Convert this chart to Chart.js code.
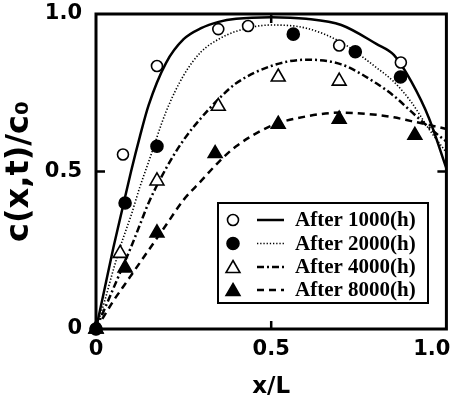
<!DOCTYPE html>
<html><head><meta charset="utf-8">
<script src="https://cdn.jsdelivr.net/npm/chart.js@4/dist/chart.umd.min.js"></script>
<style>html,body{margin:0;padding:0;background:#fff;overflow:hidden}</style>
</head><body>
<canvas id="c" width="456" height="400" style="display:block;width:456px;height:400px"></canvas>
<script>
// ---- data ----
const tickValues = [0, 0.5, 1.0];
const xTickLabels = ['0', '0.5', '1.0'];
const yTickLabels = ['0', '0.5', '1.0'];
const seriesNames = ['After 1000(h)', 'After 2000(h)', 'After 4000(h)', 'After 8000(h)'];

// fitted curves, sampled along x/L
const curveX    = [0, 0.025, 0.05, 0.075, 0.1, 0.125, 0.15, 0.2, 0.25, 0.3, 0.35, 0.4, 0.5, 0.6, 0.7, 0.8, 0.85, 0.9, 0.95, 1.0];
const curve1000 = [0, 0.13, 0.26, 0.38, 0.50, 0.61, 0.71, 0.845, 0.92, 0.955, 0.975, 0.985, 0.99, 0.985, 0.965, 0.905, 0.87, 0.785, 0.67, 0.51];
const curve2000 = [0, 0.09, 0.19, 0.28, 0.36, 0.45, 0.53, 0.69, 0.805, 0.88, 0.92, 0.945, 0.965, 0.955, 0.91, 0.83, 0.785, 0.72, 0.635, 0.56];
const curve4000 = [0, 0.065, 0.13, 0.195, 0.26, 0.33, 0.40, 0.51, 0.60, 0.67, 0.73, 0.78, 0.835, 0.855, 0.84, 0.78, 0.74, 0.69, 0.64, 0.595];
const curve8000 = [0, 0.045, 0.09, 0.13, 0.17, 0.21, 0.25, 0.33, 0.41, 0.47, 0.53, 0.58, 0.645, 0.675, 0.687, 0.68, 0.672, 0.66, 0.648, 0.635];

// measured points
const pts1000X = [0, 0.077, 0.174, 0.349, 0.434, 0.694, 0.87];
const pts1000Y = [0, 0.554, 0.835, 0.952, 0.962, 0.90, 0.846];
const pts2000X = [0, 0.083, 0.174, 0.563, 0.74, 0.869];
const pts2000Y = [0, 0.40, 0.58, 0.936, 0.88, 0.80];
const pts4000X = [0, 0.069, 0.174, 0.349, 0.52, 0.694];
const pts4000Y = [0, 0.24, 0.47, 0.707, 0.80, 0.787];
const pts8000X = [0, 0.083, 0.174, 0.34, 0.52, 0.694, 0.91];
const pts8000Y = [0, 0.194, 0.305, 0.557, 0.65, 0.666, 0.615];

// ---- build chart ----
const zip = (xs, ys) => xs.map((x, i) => ({x: x, y: ys[i]}));
const lineStyles = [
  {dash: [], width: 2.5},
  {dash: [1.3, 1.9], width: 1.6},
  {dash: [7, 3, 2, 3], width: 2.5},
  {dash: [7, 5], width: 2.5}
];
const markerStyles = [
  {style: 'circle', radius: 5.5, fill: '#fff', order: 1.5},
  {style: 'circle', radius: 6, fill: '#000', order: 1.2},
  {style: 'triangle', radius: 8, fill: '#fff', order: 1.4},
  {style: 'triangle', radius: 8, fill: '#000', order: 1.1}
];
const curves = [curve1000, curve2000, curve4000, curve8000];
const pts = [[pts1000X, pts1000Y], [pts2000X, pts2000Y], [pts4000X, pts4000Y], [pts8000X, pts8000Y]];

const datasets = [];
curves.forEach((c, i) => {
  datasets.push({
    label: seriesNames[i] + ' fit',
    data: zip(curveX, c),
    showLine: true,
    borderColor: '#000',
    borderWidth: lineStyles[i].width,
    borderDash: lineStyles[i].dash,
    pointRadius: 0,
    cubicInterpolationMode: 'monotone',
    fill: false,
    order: 2
  });
});
pts.forEach((p, i) => {
  datasets.push({
    label: seriesNames[i],
    data: zip(p[0], p[1]),
    showLine: false,
    pointStyle: markerStyles[i].style,
    pointRadius: markerStyles[i].radius,
    pointBackgroundColor: markerStyles[i].fill,
    pointBorderColor: '#000',
    pointBorderWidth: 1.6,
    clip: false,
    order: markerStyles[i].order
  });
});

const tickFont = {family: 'DejaVu Sans', weight: 'bold', size: 21};

const framePlugin = {
  id: 'frame',
  afterDraw(chart) {
    const ctx = chart.ctx, a = chart.chartArea;
    const xs = chart.scales.x, ys = chart.scales.y;
    ctx.save();
    ctx.strokeStyle = '#000';
    ctx.lineWidth = 3;
    ctx.setLineDash([]);
    ctx.strokeRect(a.left, a.top, a.right - a.left, a.bottom - a.top);
    const xm = xs.getPixelForValue(tickValues[1]);
    const ym = ys.getPixelForValue(tickValues[1]);
    ctx.lineWidth = 2.5;
    ctx.beginPath();
    ctx.moveTo(xm, a.bottom); ctx.lineTo(xm, a.bottom - 8);
    ctx.moveTo(xm, a.top); ctx.lineTo(xm, a.top + 9);
    ctx.moveTo(a.left, ym); ctx.lineTo(a.left + 9, ym);
    ctx.moveTo(a.right, ym); ctx.lineTo(a.right - 9, ym);
    ctx.stroke();
    ctx.restore();
  }
};

const legendPlugin = {
  id: 'boxLegend',
  afterDraw(chart) {
    const ctx = chart.ctx;
    const bx = 218, by = 203, bw = 210, bh = 100;
    ctx.save();
    ctx.fillStyle = '#fff';
    ctx.fillRect(bx, by, bw, bh);
    ctx.strokeStyle = '#000';
    ctx.lineWidth = 2;
    ctx.strokeRect(bx, by, bw, bh);
    const rows = [220, 243.5, 267, 290];
    seriesNames.forEach((name, i) => {
      const y = rows[i];
      ctx.fillStyle = markerStyles[i].fill;
      ctx.strokeStyle = '#000';
      ctx.lineWidth = 1.6;
      Chart.helpers.drawPoint(ctx, {pointStyle: markerStyles[i].style, radius: markerStyles[i].radius, rotation: 0, borderWidth: 1.6}, 233, y + (markerStyles[i].style === 'triangle' ? 1.5 : 0));
      ctx.beginPath();
      ctx.setLineDash(lineStyles[i].dash);
      ctx.lineWidth = lineStyles[i].width;
      ctx.moveTo(257, y); ctx.lineTo(284, y);
      ctx.stroke();
      ctx.setLineDash([]);
      ctx.fillStyle = '#000';
      ctx.font = 'bold 21px "Liberation Serif"';
      ctx.textBaseline = 'middle';
      ctx.textAlign = 'left';
      ctx.fillText(name, 295, y + 1);
    });
    ctx.restore();
  }
};

new Chart(document.getElementById('c'), {
  type: 'scatter',
  data: {datasets: datasets},
  options: {
    responsive: false,
    animation: false,
    devicePixelRatio: 1,
    layout: {padding: {top: 14, right: 9, left: 0, bottom: 0}},
    plugins: {legend: {display: false}, tooltip: {enabled: false}},
    scales: {
      x: {
        type: 'linear', min: 0, max: 1, position: 'bottom',
        grid: {display: false, drawTicks: false},
        border: {display: false},
        afterBuildTicks: s => { s.ticks = tickValues.map(v => ({value: v})); },
        ticks: {
          color: '#000', font: tickFont, padding: 8, maxRotation: 0, autoSkip: false,
          callback: (v) => { const i = tickValues.indexOf(v); const t = xTickLabels[i]; return i === 2 ? t + '    ' : t; }
        },
        title: {display: true, text: 'x/L', color: '#000', font: {family: 'DejaVu Sans', weight: 'bold', size: 23}, padding: {top: 0, bottom: -1}},
        afterFit: s => { s.height = 71; s.paddingLeft = 0; s.paddingRight = 0; }
      },
      y: {
        type: 'linear', min: 0, max: 1,
        grid: {display: false, drawTicks: false},
        border: {display: false},
        afterBuildTicks: s => { s.ticks = tickValues.map(v => ({value: v})); },
        ticks: {
          color: '#000', font: tickFont, padding: 14,
          callback: (v) => yTickLabels[tickValues.indexOf(v)]
        },
        title: {display: true, text: 'c(x,t)/c\u2080', color: '#000', font: {family: 'DejaVu Sans', weight: 'bold', size: 32}, padding: {top: 0, bottom: 0}},
        afterFit: s => { s.width = 96; s.paddingTop = 0; s.paddingBottom = 0; }
      }
    }
  },
  plugins: [framePlugin, legendPlugin]
});
</script>
</body></html>
